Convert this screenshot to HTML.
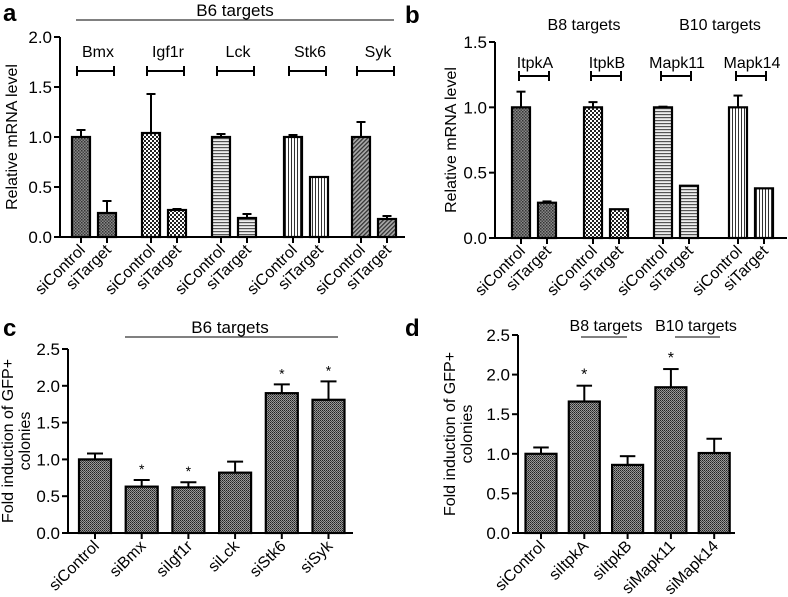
<!DOCTYPE html>
<html><head><meta charset="utf-8">
<style>
body{margin:0;background:#fff;}
svg{display:block;font-family:"Liberation Sans",Arial,sans-serif;}
</style></head>
<body>
<svg id="fig" width="788" height="597" viewBox="0 0 788 597">
<defs>
<pattern id="pDots" width="3" height="3" patternUnits="userSpaceOnUse"><rect width="3" height="3" fill="#888"/><rect width="1.5" height="1.5" fill="#333"/><rect x="1.5" y="1.5" width="1.5" height="1.5" fill="#444"/></pattern>
<pattern id="pCheck" width="4" height="4" patternUnits="userSpaceOnUse"><rect width="4" height="4" fill="#fff"/><rect width="2" height="2" fill="#222"/><rect x="2" y="2" width="2" height="2" fill="#222"/></pattern>
<pattern id="pH" width="3" height="3" patternUnits="userSpaceOnUse"><rect width="3" height="3" fill="#eee"/><rect width="3" height="1.2" fill="#555"/></pattern>
<pattern id="pV" width="3" height="3" patternUnits="userSpaceOnUse"><rect width="3" height="3" fill="#fff"/><rect width="1" height="3" fill="#333"/></pattern>
<pattern id="pDiag" width="3" height="3" patternUnits="userSpaceOnUse" patternTransform="rotate(45)"><rect width="3" height="3" fill="#aaa"/><rect width="1.3" height="3" fill="#333"/></pattern>
<pattern id="pFine" width="2" height="2" patternUnits="userSpaceOnUse"><rect width="2" height="2" fill="#999"/><rect width="1" height="1" fill="#222"/><rect x="1" y="1" width="1" height="1" fill="#444"/></pattern>
</defs>
</svg>
<script>
// Panel a data
const aGenes=["Bmx","Igf1r","Lck","Stk6","Syk"];
const aCtrl=[1.0,1.04,1.0,1.0,1.0];
const aCtrlErr=[0.07,0.39,0.03,0.02,0.15];
const aTgt=[0.24,0.27,0.19,0.6,0.18];
const aTgtErr=[0.12,0.01,0.04,0.0,0.03];
const aTicks=[0,0.5,1.0,1.5,2.0];
// Panel b data
const bGenes=["ItpkA","ItpkB","Mapk11","Mapk14"];
const bCtrl=[1.0,1.0,1.0,1.0];
const bCtrlErr=[0.12,0.04,0.005,0.09];
const bTgt=[0.27,0.22,0.40,0.38];
const bTgtErr=[0.01,0.0,0.0,0.0];
const bTicks=[0,0.5,1.0,1.5];
// Panel c data
const cCats=["siControl","siBmx","siIgf1r","siLck","siStk6","siSyk"];
const cVals=[1.0,0.63,0.62,0.82,1.9,1.81];
const cErr=[0.08,0.09,0.07,0.15,0.12,0.25];
const cStar=[false,true,true,false,true,true];
const cTicks=[0,0.5,1.0,1.5,2.0,2.5];
// Panel d data
const dCats=["siControl","siItpkA","siItpkB","siMapk11","siMapk14"];
const dVals=[1.0,1.66,0.86,1.84,1.01];
const dErr=[0.08,0.2,0.11,0.23,0.18];
const dStar=[false,true,false,true,false];
const dTicks=[0,0.5,1.0,1.5,2.0,2.5];

const NS="http://www.w3.org/2000/svg";
const svg=document.getElementById('fig');
function mk(tag,attrs,parent,text){const e=document.createElementNS(NS,tag);for(const k in attrs)e.setAttribute(k,attrs[k]);if(text!==undefined)e.textContent=text;(parent||svg).appendChild(e);return e;}
function grp(name){const g=mk('g',{});


return g;}

function axes(g,x0,x1,y0,yTop,vmax,ticks,titleLines,titleX){
  const y=v=>y0-(y0-yTop)*v/vmax;
  mk('line',{x1:x0,y1:yTop,x2:x0,y2:y0,stroke:'#000','stroke-width':2},g);
  mk('line',{x1:x0,y1:y0,x2:x1,y2:y0,stroke:'#000','stroke-width':2},g);
  ticks.forEach(t=>{
    mk('line',{x1:x0-6,y1:y(t),x2:x0,y2:y(t),stroke:'#000','stroke-width':2},g);
    const tl=mk('text',{x:x0-8,y:y(t)+6,'text-anchor':'end','font-size':17},g,t.toFixed(1));
    
    
  });
  const cy=(y0+yTop)/2;
  titleLines.forEach((ln,i)=>{
    const tt=mk('text',{x:titleX+i*17,y:cy,'text-anchor':'middle','font-size':16,transform:`rotate(-90 ${titleX+i*17} ${cy})`},g,ln);
    
    
  });
  return y;
}
function bar(g,cx,w,val,err,y,y0,fill,name){
  const r=mk('rect',{x:cx-w/2,y:y(val),width:w,height:y0-y(val),fill:fill,stroke:'#000','stroke-width':2.2},g);
  
  
  if(err>0.003){
    mk('line',{x1:cx,y1:y(val),x2:cx,y2:y(val+err),stroke:'#000','stroke-width':2},g);
    mk('line',{x1:cx-w/4,y1:y(val+err),x2:cx+w/4,y2:y(val+err),stroke:'#000','stroke-width':2},g);
  }
  mk('line',{x1:cx,y1:y0,x2:cx,y2:y0+6,stroke:'#000','stroke-width':2},g);
}
function xlabel(g,cx,y0,txt){
  const t=mk('text',{x:cx+5,y:y0+14,'text-anchor':'end','font-size':16,transform:`rotate(-45 ${cx+5} ${y0+14})`},g,txt);
  
  
}
function label(x,y,txt,name,size,weight,anchor){
  const t=mk('text',{x:x,y:y,'font-size':size||16,'font-weight':weight||'normal','text-anchor':anchor||'middle'},svg,txt);
  
  
}

// Panel a
(function(){
  const g=grp('panel-a');
  const y0=237,yTop=37;
  const y=axes(g,60,405,y0,yTop,2.0,aTicks,['Relative mRNA level'],17);
  const fills=['url(#pDots)','url(#pCheck)','url(#pH)','url(#pV)','url(#pDiag)'];
  const centers=[94,164,234,306,374];
  aGenes.forEach((gn,i)=>{
    const c=centers[i];
    bar(g,c-13,18,aCtrl[i],aCtrlErr[i],y,y0,fills[i],'bar-'+gn.toLowerCase()+'-sicontrol');
    bar(g,c+13,18,aTgt[i],aTgtErr[i],y,y0,fills[i],'bar-'+gn.toLowerCase()+'-sitarget');
    xlabel(g,c-13,y0,'siControl');xlabel(g,c+13,y0,'siTarget');
    label(c+4,57,gn,'gene-label-'+gn.toLowerCase(),16);
    mk('path',{d:`M${c-17} 66V76M${c-17} 71H${c+20}M${c+20} 66V76`,stroke:'#000','stroke-width':2,fill:'none'},g);
  });
  label(3,21,'a','panel-letter-a',24,'bold','start');
  label(235,16,'B6 targets','group-label-b6',17);
  mk('line',{x1:76,y1:20,x2:394,y2:20,stroke:'#000','stroke-width':1},g);
})();

// Panel b
(function(){
  const g=grp('panel-b');
  const y0=238,yTop=42;
  const y=axes(g,495,787,y0,yTop,1.5,bTicks,['Relative mRNA level'],456);
  const fills=['url(#pDots)','url(#pCheck)','url(#pH)','url(#pV)'];
  const centers=[534,606,676,751];
  bGenes.forEach((gn,i)=>{
    const c=centers[i];
    bar(g,c-13,18,bCtrl[i],bCtrlErr[i],y,y0,fills[i],'bar-'+gn.toLowerCase()+'-sicontrol');
    bar(g,c+13,18,bTgt[i],bTgtErr[i],y,y0,fills[i],'bar-'+gn.toLowerCase()+'-sitarget');
    xlabel(g,c-13,y0,'siControl');xlabel(g,c+13,y0,'siTarget');
    label(c+1,68,gn,'gene-label-'+gn.toLowerCase(),16);
    mk('path',{d:`M${c-15} 71V81M${c-15} 76H${c+15}M${c+15} 71V81`,stroke:'#000','stroke-width':2,fill:'none'},g);
  });
  label(405,23,'b','panel-letter-b',24,'bold','start');
  label(584,30,'B8 targets','group-label-b8',16);
  label(720,30,'B10 targets','group-label-b10',16);
})();

// Panel c
(function(){
  const g=grp('panel-c');
  const y0=533,yTop=349;
  const y=axes(g,68,353,y0,yTop,2.5,cTicks,['Fold induction of GFP+','colonies'],13);
  cCats.forEach((cat,i)=>{
    const c=95+i*46.7;
    bar(g,c,32,cVals[i],cErr[i],y,y0,'url(#pFine)','bar-'+cat.toLowerCase());
    xlabel(g,c,y0,cat);
    if(cStar[i])label(c,y(cVals[i]+cErr[i])-6,'*','significance-star',14);
  });
  label(3,336,'c','panel-letter-c',24,'bold','start');
  label(230,333,'B6 targets','group-label-b6-c',17);
  mk('line',{x1:125,y1:337,x2:338,y2:337,stroke:'#000','stroke-width':1},g);
})();

// Panel d
(function(){
  const g=grp('panel-d');
  const y0=533,yTop=335;
  const y=axes(g,518,735,y0,yTop,2.5,dTicks,['Fold induction of GFP+','colonies'],455);
  dCats.forEach((cat,i)=>{
    const c=541+i*43.3;
    bar(g,c,31,dVals[i],dErr[i],y,y0,'url(#pFine)','bar-'+cat.toLowerCase());
    xlabel(g,c,y0,cat);
    if(dStar[i])label(c,y(dVals[i]+dErr[i])-6,'*','significance-star',16);
  });
  label(405,336,'d','panel-letter-d',24,'bold','start');
  label(606,331,'B8 targets','group-label-b8-d',16);
  label(696,331,'B10 targets','group-label-b10-d',16);
  mk('line',{x1:581,y1:337,x2:627,y2:337,stroke:'#000','stroke-width':1},g);
  mk('line',{x1:675,y1:337,x2:720,y2:337,stroke:'#000','stroke-width':1},g);
})();
</script>
</body></html>
